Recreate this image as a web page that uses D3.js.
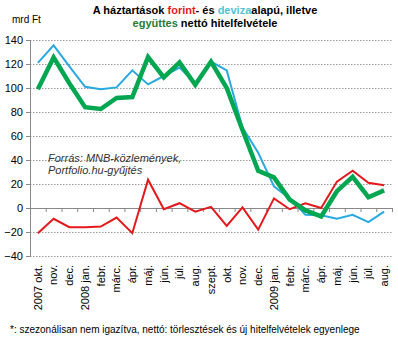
<!DOCTYPE html>
<html>
<head>
<meta charset="utf-8">
<script src="https://cdn.jsdelivr.net/npm/d3@7"></script>
<style>
  body { margin: 0; background: #fff; }
  svg { font-family: "Liberation Sans", Arial, sans-serif; }
</style>
</head>
<body>
<div id="chart"></div>
<script>
'use strict';

const months = ['2007 okt.', 'nov.', 'dec.', '2008 jan.', 'febr.', 'márc.', 'ápr.', 'máj.', 'jún.', 'júl.', 'aug.',
  'szept.', 'okt.', 'nov.', 'dec.', '2009 jan.', 'febr.', 'márc.', 'ápr.', 'máj.', 'jún.', 'júl.', 'aug.'];
const forint = [-21, -9, -16, -16, -15.5, -8, -21, 23.6, -1, 4, -3, 1, -15, 0.5, -18, 8, -1, 4, 0, 22, 31, 21, 19];
const deviza = [121, 135.5, 118, 101, 99, 100.5, 114.7, 103, 110, 117, 104, 122, 114.7, 67, 46, 18, 8, -5.6, -6, -9, -5.6, -11.7, -3];
const egyutt = [99, 125.5, 104, 84, 82.5, 91.7, 92.5, 125.8, 108.8, 121.3, 102.7, 122, 100, 65, 31, 25.5, 7, -2, -7, 14, 26, 9, 14.7];
const yTicks = [-40, -20, 0, 20, 40, 60, 80, 100, 120, 140];

const colours = {
  forint: '#e3191c',
  deviza: '#29a9e1',
  egyutt: '#00a650'
};

const W = 398, H = 339;
const margin = { top: 40, right: 6, bottom: 83, left: 30 };
const width = W - margin.left - margin.right;
const height = 256 - margin.top;

const svg = d3.select('#chart').append('svg').attr('width', W).attr('height', H);

const x = d3.scaleBand().domain(d3.range(months.length)).range([0, width]);
const y = d3.scaleLinear().domain([-40, 140]).range([height, 0]);
const cx = i => x(i) + x.bandwidth() / 2;

const g = svg.append('g').attr('transform', `translate(${margin.left},${margin.top})`);

// gridlines (dotted)
g.append('g')
  .selectAll('line')
  .data(yTicks.filter(d => d !== 0))
  .join('line')
  .attr('x1', 0)
  .attr('x2', width)
  .attr('y1', d => y(d) + 0.5)
  .attr('y2', d => y(d) + 0.5)
  .attr('stroke', '#9a9a9a')
  .attr('stroke-width', 1)
  .attr('stroke-dasharray', '1.5,1.5');

// y axis
const yAxis = g.append('g')
  .call(d3.axisLeft(y).tickValues(yTicks).tickSize(4).tickSizeOuter(0).tickPadding(3));
yAxis.select('.domain').attr('stroke', '#888');
yAxis.selectAll('.tick line').attr('stroke', '#888');
yAxis.selectAll('.tick text').attr('font-size', 11).attr('fill', '#000');

// zero line with category ticks
const zeroAxis = g.append('g')
  .attr('transform', `translate(0,${y(0)})`)
  .call(d3.axisBottom(x).tickValues([]).tickSize(0).tickSizeOuter(0));
zeroAxis.select('.domain').attr('stroke', '#888');
zeroAxis.selectAll('.bound')
  .data(d3.range(months.length + 1))
  .join('line')
  .attr('class', 'bound')
  .attr('x1', i => i * x.step() + 0.5)
  .attr('x2', i => i * x.step() + 0.5)
  .attr('y1', 0)
  .attr('y2', 4)
  .attr('stroke', '#888');

// x labels (rotated)
const xAxis = g.append('g')
  .attr('transform', `translate(0,${height})`)
  .call(d3.axisBottom(x).tickFormat(i => months[i]).tickSize(0).tickSizeOuter(0));
xAxis.select('.domain').remove();
xAxis.selectAll('.tick text')
  .attr('font-size', 11)
  .attr('fill', '#000')
  .attr('text-anchor', 'end')
  .attr('transform', 'rotate(-90)')
  .attr('x', -9)
  .attr('y', 0)
  .attr('dy', '0.35em');

// lines
const line = d3.line().x((d, i) => cx(i)).y(d => y(d));
const series = [
  { values: deviza, colour: colours.deviza, w: 2 },
  { values: forint, colour: colours.forint, w: 2 },
  { values: egyutt, colour: colours.egyutt, w: 4.5 }
];
g.selectAll('.series')
  .data(series)
  .join('path')
  .attr('class', 'series')
  .attr('d', d => line(d.values))
  .attr('fill', 'none')
  .attr('stroke', d => d.colour)
  .attr('stroke-width', d => d.w)
  .attr('stroke-linejoin', 'miter');

// source note
const src = g.append('text')
  .attr('font-size', 11)
  .attr('font-style', 'italic')
  .attr('fill', '#333');
src.append('tspan').attr('x', 18).attr('y', y(40) + 2).text('Forrás: MNB-közlemények,');
src.append('tspan').attr('x', 18).attr('y', y(40) + 14).text('Portfolio.hu-gyűjtés');

// title
const title = svg.append('text')
  .attr('text-anchor', 'middle')
  .attr('font-size', 11)
  .attr('font-weight', 'bold')
  .attr('fill', '#000');
const t1 = title.append('tspan').attr('x', 205).attr('y', 14);
t1.append('tspan').text('A háztartások ');
t1.append('tspan').attr('fill', colours.forint).text('forint');
t1.append('tspan').text('- és ');
t1.append('tspan').attr('fill', '#4cc6d4').text('deviza');
t1.append('tspan').text('alapú, illetve');
const t2 = title.append('tspan').attr('x', 205).attr('y', 27);
t2.append('tspan').attr('fill', '#1e7d34').text('együttes');
t2.append('tspan').text(' nettó hitelfelvétele');

svg.append('text')
  .attr('x', 12)
  .attr('y', 23)
  .attr('font-size', 10)
  .attr('fill', '#000')
  .text('mrd Ft');

svg.append('text')
  .attr('x', 10)
  .attr('y', 333)
  .attr('font-size', 10)
  .attr('fill', '#000')
  .text('*: szezonálisan nem igazítva, nettó: törlesztések és új hitelfelvételek egyenlege');
</script>
</body>
</html>
